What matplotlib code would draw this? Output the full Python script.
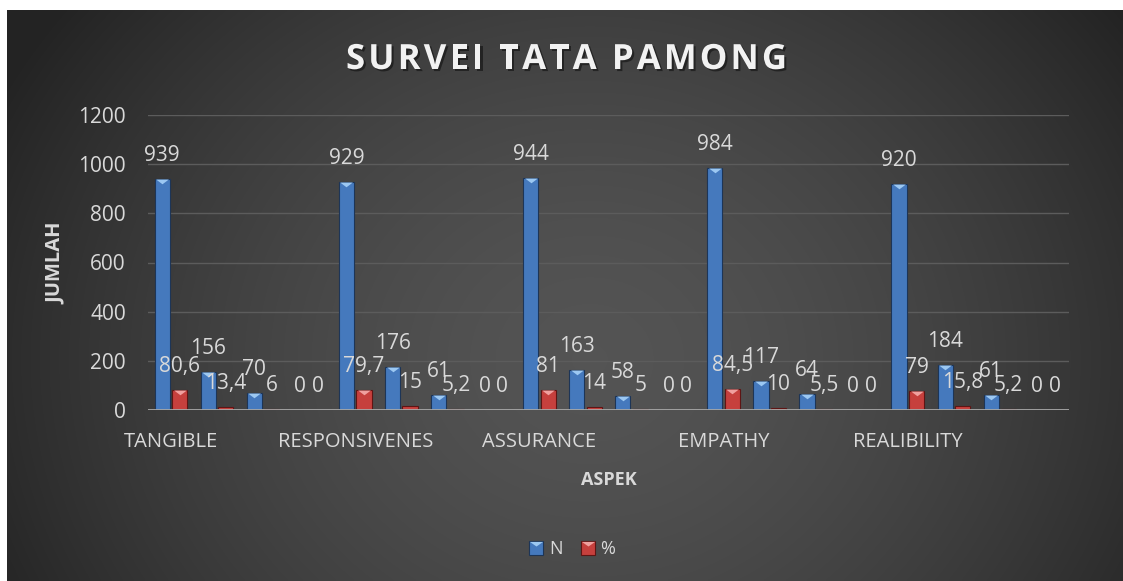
"""Survei Tata Pamong: jumlah responden (N) dan persentase (%) per aspek.

Gaya meniru chart Excel bertema gelap: latar gradien radial, batang
dengan efek bevel segitiga di puncaknya, label data di atas batang.
"""
import numpy as np
import matplotlib
matplotlib.use("Agg")
import matplotlib.pyplot as plt
import matplotlib.patheffects as pe
from matplotlib.lines import Line2D
from matplotlib.path import Path
from matplotlib.legend_handler import HandlerTuple

# --- data (4 kategori jawaban per aspek, kategori ke-4 kosong) ---
ASPEK = ["TANGIBLE", "RESPONSIVENES", "ASSURANCE", "EMPATHY", "REALIBILITY"]
N_VALUES = [939, 156, 70, 0,
            929, 176, 61, 0,
            944, 163, 58, 0,
            984, 117, 64, 0,
            920, 184, 61, 0]
PCT_VALUES = [80.6, 13.4, 6, 0,
              79.7, 15, 5.2, 0,
              81, 14, 5, 0,
              84.5, 10, 5.5, 0,
              79, 15.8, 5.2, 0]
Y_TICKS = [0, 200, 400, 600, 800, 1000, 1200]
TITLE = "SURVEI TATA PAMONG"

W, H = 1123, 581
BLUE, BLUE_TOP, BLUE_EDGE = "#4579bd", "#9cc8f2", "#1d3557"
RED, RED_TOP, RED_EDGE = "#c6403d", "#f0a09e", "#5e1514"
TXT = "#d9d9d9"
FONT = ["Open Sans", "DejaVu Sans"]

plt.rcParams["font.family"] = FONT

# segitiga bevel: sisi atas di titik data, ujung ke bawah
BEVEL = Path([(-1, 0), (1, 0), (0, -0.75), (-1, 0)],
             [Path.MOVETO, Path.LINETO, Path.LINETO, Path.CLOSEPOLY])
# versi legenda: sisi atas sejajar tepi atas kotak
BEVEL_LEG = Path([(-1, 1), (1, 1), (0, 0.3), (-1, 1)],
                 [Path.MOVETO, Path.LINETO, Path.LINETO, Path.CLOSEPOLY])


def fmt(v):
    return f"{v:g}".replace(".", ",")


def tracked_title(fig, text, x0, x1, baseline, **kw):
    """Judul dengan jarak antarhuruf diperlebar agar mengisi x0..x1 (piksel)."""
    renderer = fig.canvas.get_renderer()

    def width(s):
        t = fig.text(0, 0, s, **kw)
        w = t.get_window_extent(renderer).width
        t.remove()
        return w

    space = width("A A") - width("AA")
    widths = [space if ch == " " else width(ch) for ch in text]
    track = (x1 - x0 - sum(widths)) / (len(text) - 1)
    x = x0
    for ch, w in zip(text, widths):
        if ch != " ":
            fig.text(x / W, 1 - baseline / H, ch, ha="left", va="baseline", **kw)
        x += w + track


def main():
    fig = plt.figure(figsize=(W / 100, H / 100), dpi=100, facecolor="white")

    # latar belakang gradien radial (area chart dimulai x=7, y=10)
    bg = fig.add_axes([7 / W, 0, 1 - 7 / W, 1 - 10 / H], zorder=-5)
    gx, gy = np.meshgrid(np.linspace(7, W, 400), np.linspace(10, H, 220))
    r = np.sqrt(((gx - 590) / 640) ** 2 + ((gy - 360) / 560) ** 2)
    shade = np.clip(0.33 - 0.18 * r ** 1.6, 0.14, 0.33)
    bg.imshow(np.dstack([shade] * 3), extent=[0, 1, 0, 1], aspect="auto",
              interpolation="bilinear")
    bg.set_axis_off()

    ax = fig.add_axes([148 / W, 1 - 410 / H, (1069 - 148) / W, 295 / H])
    ax.set_facecolor("none")

    x = np.arange(len(N_VALUES))
    off, bw = 0.19, 0.33
    ax.bar(x - off, N_VALUES, bw, color=BLUE, edgecolor=BLUE_EDGE, lw=0.8, zorder=3)
    ax.bar(x + off, PCT_VALUES, bw, color=RED, edgecolor=RED_EDGE, lw=0.8, zorder=3)

    # bevel di puncak batang yang cukup tinggi
    for xs, vals, col in ((x - off, N_VALUES, BLUE_TOP), (x + off, PCT_VALUES, RED_TOP)):
        sel = [i for i, v in enumerate(vals) if v > 30]
        ax.plot(xs[sel], [vals[i] for i in sel], ls="none", marker=BEVEL,
                ms=9.2, mfc=col, mec="none", zorder=4)

    # label data
    for xs, vals in ((x - off, N_VALUES), (x + off, PCT_VALUES)):
        for xi, v in zip(xs, vals):
            ax.annotate(fmt(v), (xi, v), xytext=(0, 18), textcoords="offset pixels",
                        ha="center", va="baseline", fontsize=15, color=TXT, zorder=5)

    ax.set_xlim(-0.5, len(N_VALUES) - 0.5)
    ax.set_ylim(0, 1200)
    ax.set_yticks(Y_TICKS)
    ax.set_yticklabels([str(t) for t in Y_TICKS])
    ax.set_xticks(x)
    ax.set_xticklabels([ASPEK[i // 4] if i % 4 == 0 else "" for i in x])
    ax.tick_params(axis="y", length=0, pad=16, labelsize=15, labelcolor=TXT)
    ax.tick_params(axis="x", length=0, pad=16, labelsize=14.5, labelcolor=TXT)
    ax.grid(axis="y", color="#5c5c5c", lw=1.0, zorder=0)
    for s in ax.spines.values():
        s.set_visible(False)
    ax.axhline(0, color="#a8a8a8", lw=2.0, zorder=6)

    # judul dan label sumbu
    tracked_title(fig, TITLE, 346, 787, 69, fontsize=25, fontweight="bold",
                  color="#f2f2f2",
                  path_effects=[pe.withSimplePatchShadow(offset=(1.5, -1.5),
                                                         shadow_rgbFace="black", alpha=0.45)])
    fig.text(56 / W, 1 - 263 / H, "JUMLAH", rotation=90, ha="center", va="center",
             fontsize=14.5, fontweight="bold", color=TXT)
    fig.text(609 / W, 1 - 485 / H, "ASPEK", ha="center", va="baseline",
             fontsize=13, fontweight="bold", color=TXT)

    # legenda
    def handle(face, top, edge):
        sq = Line2D([], [], ls="none", marker="s", ms=9.5, mfc=face, mec=edge, mew=0.8)
        tri = Line2D([], [], ls="none", marker=BEVEL_LEG, ms=9.5, mfc=top, mec="none")
        return (sq, tri)

    fig.legend([handle(BLUE, BLUE_TOP, BLUE_EDGE), handle(RED, RED_TOP, RED_EDGE)],
               ["N", "%"], loc="center", bbox_to_anchor=(572 / W, 1 - 549 / H),
               ncol=2, frameon=False, fontsize=13, labelcolor=TXT,
               handler_map={tuple: HandlerTuple(ndivide=1, pad=0)},
               handlelength=0.8, handletextpad=0.3, columnspacing=1.0)

    fig.savefig("out.png", dpi=100, facecolor="white")
    plt.close(fig)


if __name__ == "__main__":
    main()
